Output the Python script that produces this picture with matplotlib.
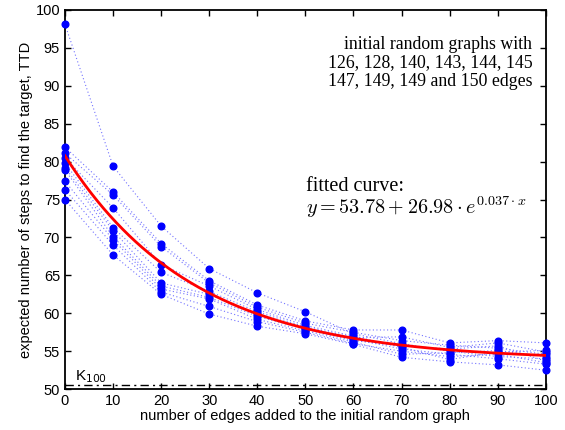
import numpy as np
import matplotlib
matplotlib.use("Agg")
import matplotlib.pyplot as plt

plt.rcParams['font.family'] = ['Liberation Sans', 'DejaVu Sans']
plt.rcParams['mathtext.fontset'] = 'cm'

edges_added = [0, 10, 20, 30, 40, 50, 60, 70, 80, 90, 100]

s1 = [98.1, 79.4, 71.5, 65.9, 62.7, 60.2, 57.3, 56.0, 55.0, 54.3, 54.0]
s2 = [81.9, 76.0, 69.2, 64.3, 61.1, 59.0, 57.8, 57.8, 56.1, 56.4, 56.1]
s3 = [81.1, 75.6, 68.8, 64.0, 60.8, 58.7, 57.5, 56.4, 55.8, 55.4, 54.6]
s4 = [80.5, 73.9, 66.4, 63.6, 60.5, 58.4, 57.0, 55.5, 53.9, 54.9, 55.1]
s5 = [79.8, 71.3, 65.4, 62.9, 60.2, 58.2, 56.8, 56.9, 55.5, 56.1, 54.9]
s6 = [79.2, 70.9, 64.0, 62.5, 59.9, 58.0, 56.6, 55.3, 54.6, 54.0, 53.3]
s7 = [78.9, 70.1, 63.6, 62.1, 59.6, 57.9, 56.4, 55.7, 55.3, 55.7, 53.7]
s8 = [77.4, 69.7, 63.2, 61.9, 59.2, 57.7, 56.2, 54.6, 54.8, 55.1, 54.3]
s9 = [76.3, 69.0, 62.8, 60.9, 58.9, 57.5, 56.0, 55.0, 54.3, 54.6, 53.5]
s10 = [75.0, 67.7, 62.5, 59.9, 58.3, 57.3, 55.9, 54.2, 53.6, 53.2, 52.5]
series = [s1, s2, s3, s4, s5, s6, s7, s8, s9, s10]

fit_a, fit_b, fit_c = 53.78, 26.98, 0.037
k100_level = 50.55

fig = plt.figure(figsize=(5.65, 4.30), dpi=100)
ax = fig.add_axes([0.115, 0.095, 0.851, 0.882])

for s in series:
    ax.plot(edges_added, s, linestyle=(0, (1, 2.2)), color=(0.45, 0.45, 1.0), lw=0.8, zorder=2)
    ax.plot(edges_added, s, linestyle='none', marker='o', color='#0000ff',
            markersize=4.8, zorder=3, clip_on=False)

xf = np.linspace(0, 100, 300)
ax.plot(xf, fit_a + fit_b * np.exp(-fit_c * xf), color='red', lw=2, zorder=4)

ax.axhline(k100_level, color='black', lw=1, linestyle='-.', dashes=(6, 3, 1.5, 3))
ax.text(2, 51.2, 'K$_{100}$', fontsize=11, fontfamily='Liberation Sans',
        math_fontfamily='dejavusans')

ax.set_xlim(0, 100)
ax.set_ylim(50, 100)
ax.set_xticks(range(0, 101, 10))
ax.set_yticks(range(50, 101, 5))
ax.tick_params(direction='in', top=True, right=True, labelsize=10.5, length=4, width=1)
for sp in ax.spines.values():
    sp.set_linewidth(1.3)

ax.set_xlabel('number of edges added to the initial random graph', fontsize=10.5, labelpad=1)
ax.set_ylabel('expected number of steps to find the target, TTD', fontsize=10.5, labelpad=2)

ax.text(97.2, 96.6, 'initial random graphs with\n126, 128, 140, 143, 144, 145\n147, 149, 149 and 150 edges',
        ha='right', va='top', multialignment='right', fontsize=12.8,
        fontfamily='Liberation Serif', linespacing=1.12)

ax.text(50.2, 75.5, 'fitted curve:', fontsize=14.5, fontfamily='Liberation Serif', va='bottom')
ax.text(50.2, 72.3, r'$y = 53.78 + 26.98 \cdot e^{0.037\cdot x}$', fontsize=14.5, va='bottom')

fig.savefig('out.png', dpi=100)
